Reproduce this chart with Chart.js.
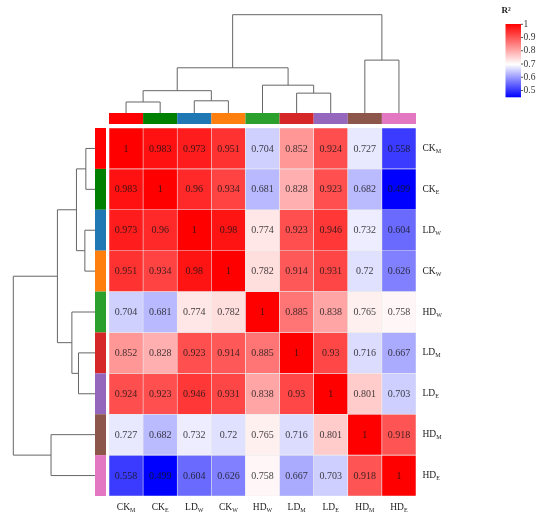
<!DOCTYPE html>
<html>
<head>
<meta charset="utf-8">
<script src="https://cdn.jsdelivr.net/npm/chart.js@4.4.1/dist/chart.umd.min.js"></script>
<style>
  body { margin: 0; background: #fff; }
  #wrap { width: 540px; height: 522px; position: relative; }
</style>
</head>
<body>
<div id="wrap"><canvas id="heat"></canvas></div>
<script>
// sample names (main text + subscript), in clustered order
const labelMain = ['CK', 'CK', 'LD', 'CK', 'HD', 'LD', 'LD', 'HD', 'HD'];
const labelSub  = ['M',  'E',  'W',  'W',  'W',  'M',  'E',  'M',  'E'];
const groupColors = ['#ff0000', '#008000', '#1f77b4', '#ff7f0e', '#2ca02c', '#d62728', '#9467bd', '#8c564b', '#e377c2'];

// R² matrix rows
const rowCKM = [1, 0.983, 0.973, 0.951, 0.704, 0.852, 0.924, 0.727, 0.558];
const rowCKE = [0.983, 1, 0.96, 0.934, 0.681, 0.828, 0.923, 0.682, 0.499];
const rowLDW = [0.973, 0.96, 1, 0.98, 0.774, 0.923, 0.946, 0.732, 0.604];
const rowCKW = [0.951, 0.934, 0.98, 1, 0.782, 0.914, 0.931, 0.72, 0.626];
const rowHDW = [0.704, 0.681, 0.774, 0.782, 1, 0.885, 0.838, 0.765, 0.758];
const rowLDM = [0.852, 0.828, 0.923, 0.914, 0.885, 1, 0.93, 0.716, 0.667];
const rowLDE = [0.924, 0.923, 0.946, 0.931, 0.838, 0.93, 1, 0.801, 0.703];
const rowHDM = [0.727, 0.682, 0.732, 0.72, 0.765, 0.716, 0.801, 1, 0.918];
const rowHDE = [0.558, 0.499, 0.604, 0.626, 0.758, 0.667, 0.703, 0.918, 1];
const rows = [rowCKM, rowCKE, rowLDW, rowCKW, rowHDW, rowLDM, rowLDE, rowHDM, rowHDE];

// dendrogram merges: [left, right, height] (leaves 0-8, new clusters from 9)
const merges = [
  [0, 1, 0.112],
  [2, 3, 0.124],
  [5, 6, 0.202],
  [9, 10, 0.227],
  [4, 11, 0.283],
  [12, 13, 0.46],
  [7, 8, 0.538],
  [14, 15, 1.0]
];

// colour scale ticks
const legendTicks = [1, 0.9, 0.8, 0.7, 0.6, 0.5];

function cellColor(v) {
  let t;
  if (v < 0.75) {
    t = Math.min(1, (0.75 - v) / 0.25);
    const c = Math.round(255 * (1 - t));
    return `rgb(${c}, ${c}, 255)`;
  }
  t = Math.min(1, (v - 0.75) / 0.25);
  const c = Math.round(255 * (1 - t));
  return `rgb(255, ${c}, ${c})`;
}

const FONT = "'Liberation Serif', 'DejaVu Serif', serif";

function subLabel(ctx, main, sub, x, y, align) {
  ctx.font = '9.5px ' + FONT;
  const wm = ctx.measureText(main).width;
  ctx.font = '6px ' + FONT;
  const ws = ctx.measureText(sub).width;
  let x0 = align === 'center' ? x - (wm + ws) / 2 : x;
  ctx.textAlign = 'left';
  ctx.textBaseline = 'middle';
  ctx.font = '9.5px ' + FONT;
  ctx.fillText(main, x0, y);
  ctx.font = '6px ' + FONT;
  ctx.fillText(sub, x0 + wm, y + 3);
}

function dendroPaths(mergeList) {
  const pos = [], h = [];
  for (let i = 0; i < 9; i++) { pos.push(i); h.push(0); }
  const segs = [];
  mergeList.forEach(m => {
    const [a, b, hm] = m;
    segs.push([pos[a], h[a], pos[b], h[b], hm]);
    pos.push((pos[a] + pos[b]) / 2);
    h.push(hm);
  });
  return segs;
}

const extras = {
  id: 'extras',
  afterDatasetsDraw(chart) {
    const { ctx, chartArea: a, scales: { x, y } } = chart;
    const halfW = (x.getPixelForValue(1) - x.getPixelForValue(0)) / 2;
    ctx.save();

    // cell values
    ctx.fillStyle = 'rgba(20, 20, 20, 0.82)';
    ctx.font = '10px ' + FONT;
    ctx.textAlign = 'center';
    ctx.textBaseline = 'middle';
    rows.forEach((row, i) => {
      row.forEach((v, j) => {
        ctx.fillText(String(v), x.getPixelForValue(j), y.getPixelForValue(i + 0.5) + 0.5);
      });
    });

    // group colour bars
    groupColors.forEach((c, i) => {
      ctx.fillStyle = c;
      const cx = x.getPixelForValue(i);
      ctx.fillRect(cx - halfW, a.top - 15, halfW * 2, 11);
      const y0 = y.getPixelForValue(i), y1 = y.getPixelForValue(i + 1);
      ctx.fillRect(a.left - 14, y0, 11, y1 - y0);
    });

    // axis labels
    ctx.fillStyle = '#222';
    labelMain.forEach((m, i) => {
      subLabel(ctx, m, labelSub[i], a.right + 6.5, y.getPixelForValue(i + 0.5), 'left');
      subLabel(ctx, m, labelSub[i], x.getPixelForValue(i), a.bottom + 11, 'center');
    });

    // dendrograms
    const segs = dendroPaths(merges);
    ctx.strokeStyle = '#666';
    ctx.lineWidth = 1;
    const topBase = a.top - 15, topScale = 98.3;
    const leftBase = a.left - 14, leftScale = 81.7;
    segs.forEach(([pa, ha, pb, hb, hm]) => {
      // top
      const xa = x.getPixelForValue(pa), xb = x.getPixelForValue(pb);
      ctx.beginPath();
      ctx.moveTo(xa, topBase - ha * topScale);
      ctx.lineTo(xa, topBase - hm * topScale);
      ctx.lineTo(xb, topBase - hm * topScale);
      ctx.lineTo(xb, topBase - hb * topScale);
      ctx.stroke();
      // left
      const ya = y.getPixelForValue(pa + 0.5), yb = y.getPixelForValue(pb + 0.5);
      ctx.beginPath();
      ctx.moveTo(leftBase - ha * leftScale, ya);
      ctx.lineTo(leftBase - hm * leftScale, ya);
      ctx.lineTo(leftBase - hm * leftScale, yb);
      ctx.lineTo(leftBase - hb * leftScale, yb);
      ctx.stroke();
    });

    // colour key
    const kx = 505.5, kw = 15.5, ktop = 24, kbot = 97.3;
    const grad = ctx.createLinearGradient(0, ktop, 0, kbot);
    grad.addColorStop(0, '#ff0000');
    grad.addColorStop(0.55, '#ffffff');
    grad.addColorStop(1, '#0000ff');
    ctx.fillStyle = grad;
    ctx.fillRect(kx, ktop, kw, kbot - ktop);
    const tickPx = v => 24.3 + (1 - v) * 132.4;
    ctx.strokeStyle = '#555';
    ctx.fillStyle = '#333';
    ctx.font = '9.5px ' + FONT;
    ctx.textAlign = 'left';
    ctx.textBaseline = 'middle';
    legendTicks.forEach(v => {
      const ty = tickPx(v);
      ctx.beginPath();
      ctx.moveTo(kx + kw, ty);
      ctx.lineTo(kx + kw + 2, ty);
      ctx.stroke();
      ctx.fillText(String(v), kx + kw + 2.5, ty);
    });
    ctx.font = 'bold 9px ' + FONT;
    ctx.fillStyle = '#222';
    ctx.fillText('R²', 501.5, 11);

    ctx.restore();
  }
};

const datasets = rows.map((row, i) => ({
  label: labelMain[i] + labelSub[i],
  data: row.map(() => 1),
  backgroundColor: row.map(cellColor),
  borderColor: 'rgba(235, 235, 235, 0.85)',
  borderWidth: 0.6,
  borderSkipped: false,
  barPercentage: 1,
  categoryPercentage: 1
}));

new Chart(document.getElementById('heat').getContext('2d'), {
  type: 'bar',
  data: {
    labels: labelMain.map((m, i) => m + labelSub[i]),
    datasets: datasets
  },
  options: {
    responsive: true,
    maintainAspectRatio: false,
    animation: false,
    layout: { padding: { left: 109, top: 128, right: 124, bottom: 26 } },
    plugins: { legend: { display: false }, tooltip: { enabled: false } },
    scales: {
      x: { stacked: true, display: false },
      y: { stacked: true, display: false, min: 0, max: 9, reverse: true }
    }
  },
  plugins: [extras]
});
</script>
</body>
</html>
